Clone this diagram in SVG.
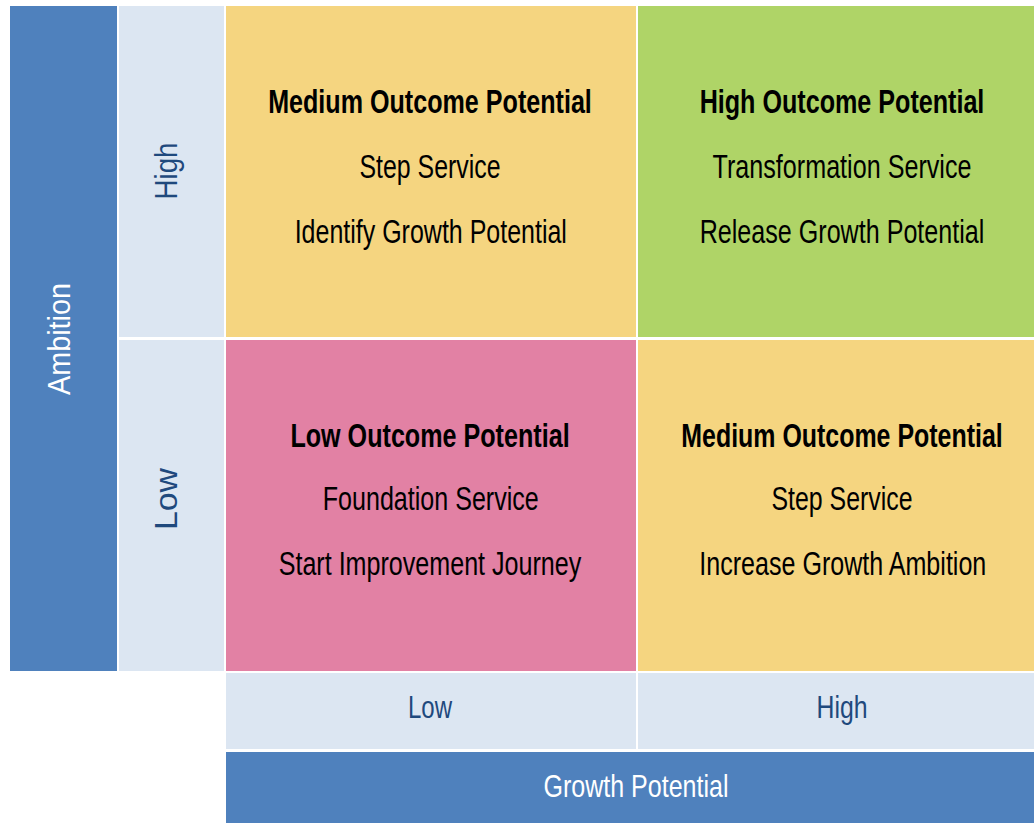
<svg xmlns="http://www.w3.org/2000/svg" width="1034" height="823" viewBox="0 0 1034 823">
<style>
.axis{fill:#4F81BD}
.lab{fill:#DCE6F2}
.t{font-family:"Liberation Sans",Arial,sans-serif;font-size:33px;text-anchor:middle;fill:#000}
.b{font-weight:bold}
.ax{font-family:"Liberation Sans",Arial,sans-serif;font-size:32px;text-anchor:middle;fill:#1F497D}
.w{fill:#FFFFFF}
</style>
<rect width="1034" height="823" fill="#FFFFFF"/>
<g id="ambition-axis">
<rect class="axis" x="10" y="6" width="107" height="665"/>
<text class="ax w" transform="translate(70,339) rotate(-90)" textLength="112" lengthAdjust="spacingAndGlyphs">Ambition</text>
</g>
<g id="ambition-high">
<rect class="lab" x="119" y="6" width="105" height="331"/>
<text class="ax" transform="translate(177,171) rotate(-90)" textLength="57" lengthAdjust="spacingAndGlyphs">High</text>
</g>
<g id="ambition-low">
<rect class="lab" x="119" y="340" width="105" height="331"/>
<text class="ax" transform="translate(177,499) rotate(-90)" textLength="62" lengthAdjust="spacingAndGlyphs">Low</text>
</g>
<g id="cell-top-left">
<rect x="226" y="6" width="410" height="331" fill="#F5D580"/>
<g transform="translate(430,0) scale(0.78,1)">
<text class="t b" x="0" y="113" textLength="415" lengthAdjust="spacingAndGlyphs">Medium Outcome Potential</text>
<text class="t" x="0" y="178" textLength="181" lengthAdjust="spacingAndGlyphs">Step Service</text>
<text class="t" x="1" y="243" textLength="349" lengthAdjust="spacingAndGlyphs">Identify Growth Potential</text>
</g>
</g>
<g id="cell-top-right">
<rect x="638" y="6" width="396" height="331" fill="#AFD467"/>
<g transform="translate(842,0) scale(0.78,1)">
<text class="t b" x="0" y="113" textLength="365" lengthAdjust="spacingAndGlyphs">High Outcome Potential</text>
<text class="t" x="0" y="178" textLength="332" lengthAdjust="spacingAndGlyphs">Transformation Service</text>
<text class="t" x="0" y="243" textLength="365" lengthAdjust="spacingAndGlyphs">Release Growth Potential</text>
</g>
</g>
<g id="cell-bottom-left">
<rect x="226" y="340" width="410" height="331" fill="#E281A4"/>
<g transform="translate(430,0) scale(0.78,1)">
<text class="t b" x="0" y="447" textLength="358" lengthAdjust="spacingAndGlyphs">Low Outcome Potential</text>
<text class="t" x="1" y="510" textLength="277" lengthAdjust="spacingAndGlyphs">Foundation Service</text>
<text class="t" x="0" y="575" textLength="388" lengthAdjust="spacingAndGlyphs">Start Improvement Journey</text>
</g>
</g>
<g id="cell-bottom-right">
<rect x="638" y="340" width="396" height="331" fill="#F5D580"/>
<g transform="translate(842,0) scale(0.78,1)">
<text class="t b" x="0" y="447" textLength="412" lengthAdjust="spacingAndGlyphs">Medium Outcome Potential</text>
<text class="t" x="0" y="510" textLength="181" lengthAdjust="spacingAndGlyphs">Step Service</text>
<text class="t" x="1" y="575" textLength="368" lengthAdjust="spacingAndGlyphs">Increase Growth Ambition</text>
</g>
</g>
<g id="growth-low">
<rect class="lab" x="226" y="673" width="410" height="76"/>
<text class="ax" x="430" y="718" textLength="44" lengthAdjust="spacingAndGlyphs">Low</text>
</g>
<g id="growth-high">
<rect class="lab" x="638" y="673" width="396" height="76"/>
<text class="ax" x="842" y="718" textLength="51" lengthAdjust="spacingAndGlyphs">High</text>
</g>
<g id="growth-axis">
<rect class="axis" x="226" y="752" width="808" height="71"/>
<text class="ax w" x="636" y="797" textLength="185" lengthAdjust="spacingAndGlyphs">Growth Potential</text>
</g>
<g id="connectors"/>
</svg>
